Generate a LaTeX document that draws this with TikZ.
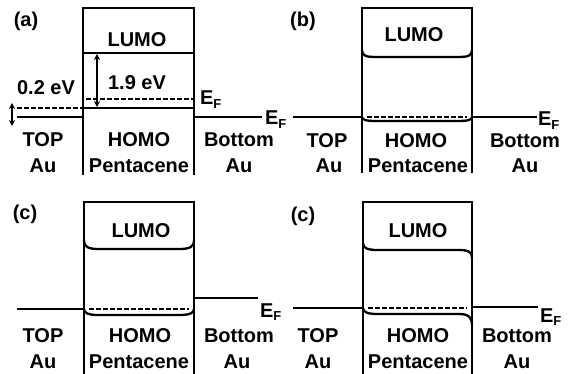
\documentclass[tikz,border=0pt]{standalone}
\usepackage{fontspec}
\setmainfont{Liberation Sans}
\usetikzlibrary{arrows.meta}
\newcommand\fermi{E\raisebox{-3.5pt}{\fontsize{13}{13}\selectfont F}}
\begin{document}
\begin{tikzpicture}[x=1pt,y=-1pt,line width=2.3pt,
  lbl/.style={font=\fontsize{20}{25}\selectfont\bfseries,inner sep=0pt,anchor=base},
  eflbl/.style={font=\fontsize{20}{25}\selectfont\bfseries,inner sep=0pt,anchor=base west},
  dline/.style={line width=1.8pt,dash pattern=on 4.5pt off 2.5pt},
  gap/.style={line width=1.5pt,{Stealth[length=6pt,width=6pt]}-{Stealth[length=6pt,width=6pt]}}]
\useasboundingbox (0,0) rectangle (573,374);
% ---------- panel (a)
\draw (83,175) -- (83,8) -- (194,8) -- (194,175);
\draw (83,53) -- (194,53);
\draw (83,108) -- (194,108);
\draw[dline] (86,99) -- (193,99);
\draw[dline] (17,108) -- (83,108);
\draw (17,117) -- (83,117);
\draw (194,117) -- (262,117);
\draw[gap] (97,54) -- (97,107);
\draw[gap] (12,103) -- (12,126);
\node[lbl] (alab) at (26,27) {(a)};
\node[lbl] (alumo) at (137,47) {LUMO};
\node[lbl] (agap) at (137,90) {1.9 eV};
\node[lbl] (ashift) at (46,95) {0.2 eV};
\node[eflbl] (aef1) at (199,105) {\fermi};
\node[eflbl] (aef2) at (264,125) {\fermi};
\node[lbl] (atop) at (43,147) {TOP};
\node[lbl] (aau1) at (43,173) {Au};
\node[lbl] (ahomo) at (139,147) {HOMO};
\node[lbl] (apent) at (139,173) {Pentacene};
\node[lbl] (abot) at (239,147) {Bottom};
\node[lbl] (aau2) at (239,173) {Au};
% ---------- panel (b)
\draw (362,173) -- (362,8) -- (472,8) -- (472,173);
\draw (362,50) .. controls (362,56) and (366,57) .. (377,57) -- (457,57) .. controls (468,57) and (472,56) .. (472,50);
\draw (362,117) .. controls (362,120) and (366,121) .. (377,121) -- (457,121) .. controls (468,121) and (472,120) .. (472,117);
\draw[dline] (367,117) -- (467,117);
\draw (293,117) -- (362,117);
\draw (472,117) -- (537,117);
\node[lbl] (blab) at (303,27) {(b)};
\node[lbl] (blumo) at (414,42) {LUMO};
\node[eflbl] (bef) at (537,126) {\fermi};
\node[lbl] (btop) at (327,148) {TOP};
\node[lbl] (bau1) at (329,173) {Au};
\node[lbl] (bhomo) at (416,148) {HOMO};
\node[lbl] (bpent) at (418,173) {Pentacene};
\node[lbl] (bbot) at (525,148) {Bottom};
\node[lbl] (bau2) at (525,173) {Au};
% ---------- panel (c)
\draw (84,374) -- (84,202) -- (194,202) -- (194,374);
\draw (84,240) .. controls (84,247) and (88,249) .. (99,249) -- (179,249) .. controls (190,249) and (194,247) .. (194,240);
\draw (84,309) .. controls (84,313) and (88,315) .. (99,315) -- (179,315) .. controls (190,315) and (194,313) .. (194,309);
\draw[dline] (89,309) -- (189,309);
\draw (17,309) -- (84,309);
\draw (194,298) -- (258,298);
\node[lbl] (clab) at (25,220) {(c)};
\node[lbl] (clumo) at (141,238) {LUMO};
\node[eflbl] (cef) at (259,317) {\fermi};
\node[lbl] (ctop) at (43,342) {TOP};
\node[lbl] (cau1) at (43,368) {Au};
\node[lbl] (chomo) at (140,342) {HOMO};
\node[lbl] (cpent) at (139,368) {Pentacene};
\node[lbl] (cbot) at (239,342) {Bottom};
\node[lbl] (cau2) at (237,368) {Au};
% ---------- panel (d)
\draw (363,374) -- (363,202) -- (472,202) -- (472,374);
\draw (363,243) .. controls (363,248) and (367,250) .. (378,250) -- (458,250) .. controls (469,250) and (472,252) .. (472,258);
\draw (363,308) .. controls (363,312) and (367,314) .. (378,314) -- (458,314) .. controls (469,314) and (472,317) .. (472,326);
\draw[dline] (368,308) -- (467,308);
\draw (293,308) -- (363,308);
\draw (472,307) -- (538,307);
\node[lbl] (dlab) at (303,222) {(c)};
\node[lbl] (dlumo) at (418,238) {LUMO};
\node[eflbl] (def) at (539,322) {\fermi};
\node[lbl] (dtop) at (318,342) {TOP};
\node[lbl] (dau1) at (318,368) {Au};
\node[lbl] (dhomo) at (418,342) {HOMO};
\node[lbl] (dpent) at (418,368) {Pentacene};
\node[lbl] (dbot) at (517,342) {Bottom};
\node[lbl] (dau2) at (517,368) {Au};
\end{tikzpicture}
\end{document}
